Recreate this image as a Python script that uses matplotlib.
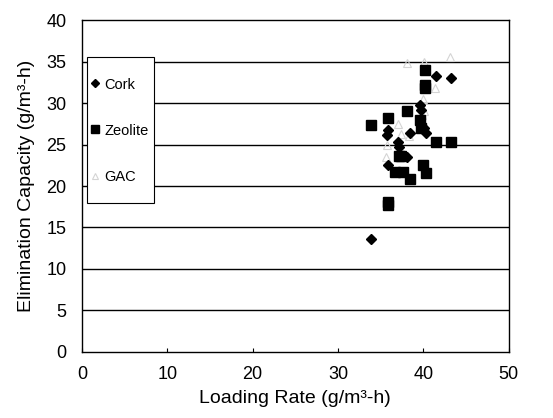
import matplotlib.pyplot as plt
from matplotlib.patches import Rectangle

plt.rcParams['font.family'] = ['Liberation Sans', 'DejaVu Sans']

# Cork
cork_x = [33.9, 35.8, 35.8, 35.7, 37.05, 37.2, 38.1, 38.4, 39.6, 39.7, 40.05, 40.3, 41.5, 43.2]
cork_y = [13.6, 26.75, 22.5, 26.1, 25.35, 24.75, 23.5, 26.4, 29.75, 29.2, 26.95, 26.4, 33.25, 33.05]

# Zeolite
zeo_x = [33.85, 35.8, 35.8, 35.8, 38.1, 37.2, 37.4, 36.7, 37.6, 38.4, 39.7, 39.6, 40.0, 40.3, 40.2, 40.2, 40.2, 41.5, 43.2]
zeo_y = [27.4, 28.15, 18.1, 17.7, 29.05, 23.6, 23.6, 21.7, 21.7, 20.85, 26.95, 27.9, 22.5, 21.6, 34.0, 32.2, 31.8, 25.35, 25.35]

# GAC (faint grey)
gac_x = [38.1, 40.1, 43.1, 41.4, 40.0, 37.0, 38.3, 36.6, 35.7, 35.6, 39.8, 40.1, 37.4]
gac_y = [34.8, 34.9, 35.6, 31.8, 30.5, 27.5, 26.0, 21.8, 25.0, 23.5, 28.5, 29.0, 26.3]

fig = plt.figure(figsize=(5.53, 4.18), dpi=100)
ax = fig.add_axes([0.148, 0.158, 0.772, 0.794])

for y in range(5, 40, 5):
    ax.axhline(y, color='black', lw=1.0, zorder=1)

ax.plot(gac_x, gac_y, ls='none', marker='^', ms=6, mfc='none', mec='#d4d4d4', mew=0.8,
        label='GAC', zorder=2)
ax.plot(cork_x, cork_y, ls='none', marker='D', ms=5.5, color='black', label='Cork', zorder=3)
ax.plot(zeo_x, zeo_y, ls='none', marker='s', ms=7, color='black', label='Zeolite', zorder=3)

ax.set_xlim(0, 50)
ax.set_ylim(0, 40)
ax.set_xticks(range(0, 51, 10))
ax.set_yticks(range(0, 41, 5))
ax.tick_params(axis='x', direction='in', length=3, pad=10, labelsize=13)
ax.tick_params(axis='y', length=0, pad=11, labelsize=13)
for s in ax.spines.values():
    s.set_linewidth(1.0)

ax.set_xlabel('Loading Rate (g/m³-h)', fontsize=14, labelpad=5)
ax.set_ylabel('Elimination Capacity (g/m³-h)', fontsize=14, labelpad=8)

# legend box
box = Rectangle((0.012, 0.449), 0.157, 0.44, transform=ax.transAxes, facecolor='white',
                edgecolor='black', lw=0.8, zorder=4)
ax.add_patch(box)
h, l = ax.get_legend_handles_labels()
leg = ax.legend([h[1], h[2], h[0]], [l[1], l[2], l[0]], loc='center left',
                bbox_to_anchor=(0.02, 0.667), frameon=False, fontsize=10.5,
                handlelength=0.6, handletextpad=0.35, labelspacing=2.2, borderpad=0,
                borderaxespad=0, markerscale=0.8)
leg.set_zorder(5)

fig.savefig('out.png', dpi=100)
